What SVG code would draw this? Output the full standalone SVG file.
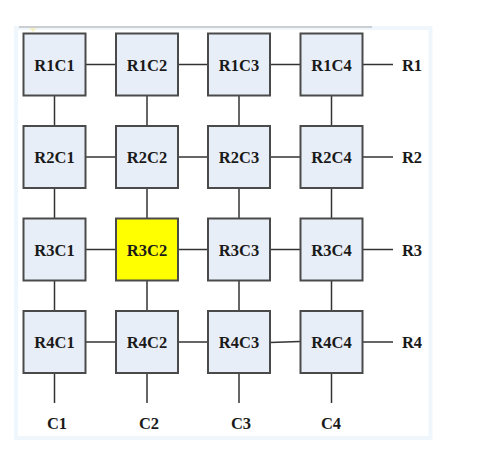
<svg xmlns="http://www.w3.org/2000/svg" width="487" height="455" viewBox="0 0 487 455">
<style>
.n rect{fill:#E8EEF8;stroke:#4A4A4A;stroke-width:2}
.n.hl rect{fill:#FFFF00}
text{font-family:"Liberation Serif","Times New Roman",serif;font-weight:bold;font-size:16.5px;fill:#1A1A1A;text-anchor:middle}
.c line{stroke:#333;stroke-width:1.5}
</style>
<rect x="0" y="0" width="487" height="455" fill="#fff"/>
<g id="frame" fill="none">
<rect x="16" y="28" width="414.5" height="410" stroke="#F0F7FC" stroke-width="4"/>
<line x1="19" y1="27" x2="372" y2="27" stroke="#A8A8A8" stroke-width="1.2"/>
<polygon points="29,28 37,28 33,32" fill="#F6F0C8"/>
</g>
<g class="c" id="connectors">
<line x1="85" y1="64.5" x2="116" y2="64.5"/><line x1="178" y1="64.5" x2="208" y2="64.5"/><line x1="270" y1="64.5" x2="300" y2="64.5"/><line x1="362" y1="64.5" x2="393" y2="64.5"/>
<line x1="85" y1="157" x2="116" y2="157"/><line x1="178" y1="157" x2="208" y2="157"/><line x1="270" y1="157" x2="300" y2="157"/><line x1="362" y1="157" x2="393" y2="157"/>
<line x1="85" y1="249.5" x2="116" y2="249.5"/><line x1="178" y1="249.5" x2="208" y2="249.5"/><line x1="270" y1="249.5" x2="300" y2="249.5"/><line x1="362" y1="249.5" x2="393" y2="249.5"/>
<line x1="85" y1="342" x2="116" y2="342"/><line x1="178" y1="342" x2="208" y2="342"/><line x1="270" y1="342.5" x2="300" y2="341.5"/><line x1="362" y1="342" x2="393" y2="342"/>
<line x1="54.5" y1="95.5" x2="54.5" y2="126"/><line x1="147" y1="95.5" x2="147" y2="126"/><line x1="239" y1="95.5" x2="239" y2="126"/><line x1="331.5" y1="95.5" x2="331.5" y2="126"/>
<line x1="54.5" y1="188" x2="54.5" y2="218.5"/><line x1="147" y1="188" x2="147" y2="218.5"/><line x1="239" y1="188" x2="239" y2="218.5"/><line x1="331.5" y1="188" x2="331.5" y2="218.5"/>
<line x1="54.5" y1="280.5" x2="54.5" y2="311"/><line x1="147" y1="280.5" x2="147" y2="311"/><line x1="239" y1="280.5" x2="239" y2="311"/><line x1="331.5" y1="280.5" x2="331.5" y2="311"/>
<line x1="54.5" y1="373" x2="54.5" y2="403"/><line x1="147" y1="373" x2="147" y2="403"/><line x1="239" y1="373" x2="239" y2="403"/><line x1="331.5" y1="373" x2="331.5" y2="403"/>
</g>
<g id="R1C1" class="n"><rect x="23.5" y="33.5" width="62" height="62"/><text x="54.5" y="70.5">R1C1</text></g>
<g id="R1C2" class="n"><rect x="116" y="33.5" width="62" height="62"/><text x="147" y="70.5">R1C2</text></g>
<g id="R1C3" class="n"><rect x="208" y="33.5" width="62" height="62"/><text x="239" y="70.5">R1C3</text></g>
<g id="R1C4" class="n"><rect x="300.5" y="33.5" width="62" height="62"/><text x="331.5" y="70.5">R1C4</text></g>
<g id="R2C1" class="n"><rect x="23.5" y="126" width="62" height="62"/><text x="54.5" y="163">R2C1</text></g>
<g id="R2C2" class="n"><rect x="116" y="126" width="62" height="62"/><text x="147" y="163">R2C2</text></g>
<g id="R2C3" class="n"><rect x="208" y="126" width="62" height="62"/><text x="239" y="163">R2C3</text></g>
<g id="R2C4" class="n"><rect x="300.5" y="126" width="62" height="62"/><text x="331.5" y="163">R2C4</text></g>
<g id="R3C1" class="n"><rect x="23.5" y="218.5" width="62" height="62"/><text x="54.5" y="255.5">R3C1</text></g>
<g id="R3C2" class="n hl"><rect x="116" y="218.5" width="62" height="62"/><text x="147" y="255.5">R3C2</text></g>
<g id="R3C3" class="n"><rect x="208" y="218.5" width="62" height="62"/><text x="239" y="255.5">R3C3</text></g>
<g id="R3C4" class="n"><rect x="300.5" y="218.5" width="62" height="62"/><text x="331.5" y="255.5">R3C4</text></g>
<g id="R4C1" class="n"><rect x="23.5" y="311" width="62" height="62"/><text x="54.5" y="348">R4C1</text></g>
<g id="R4C2" class="n"><rect x="116" y="311" width="62" height="62"/><text x="147" y="348">R4C2</text></g>
<g id="R4C3" class="n"><rect x="208" y="311" width="62" height="62"/><text x="239" y="348">R4C3</text></g>
<g id="R4C4" class="n"><rect x="300.5" y="311" width="62" height="62"/><text x="331.5" y="348">R4C4</text></g>
<g id="labels">
<text x="412" y="70.5">R1</text><text x="412" y="163">R2</text><text x="412" y="255.5">R3</text><text x="412" y="348">R4</text>
<text x="57" y="429">C1</text><text x="149" y="429">C2</text><text x="241" y="429">C3</text><text x="331" y="429">C4</text>
</g>
</svg>
